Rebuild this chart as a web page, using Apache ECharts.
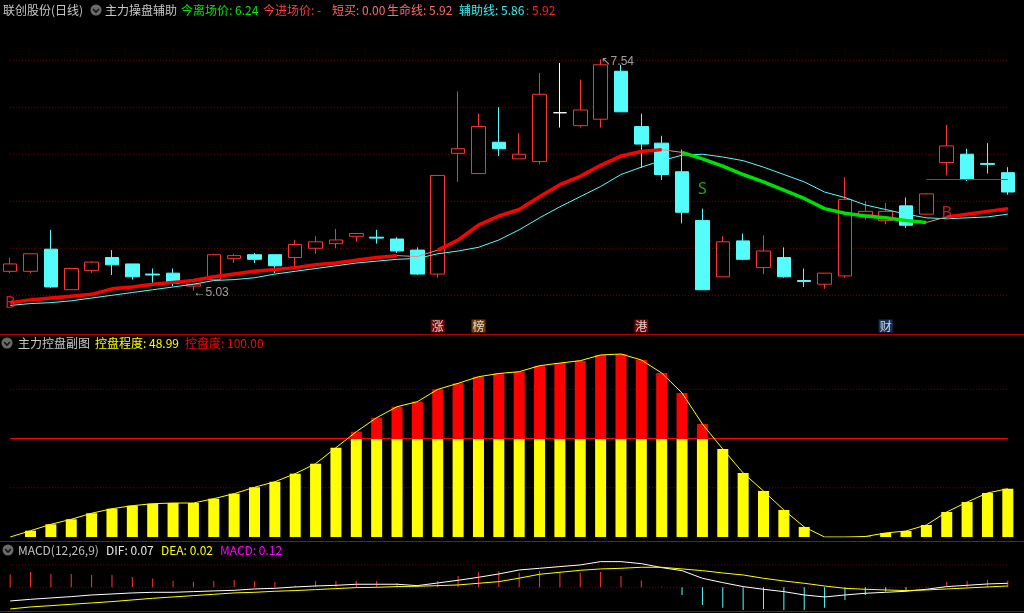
<!DOCTYPE html>
<html>
<head>
<meta charset="utf-8">
<script src="https://cdn.jsdelivr.net/npm/echarts@6/dist/echarts.min.js"></script>
<style>
html, body { margin: 0; padding: 0; background: #000; }
#main { width: 1024px; height: 613px; }
</style>
</head>
<body>
<div id="main"></div>
<script>
// 日K数据 (开, 收, 低, 高)
const opens  = [5.24,5.24,5.48,5.04,5.25,5.39,5.32,5.21,5.22,5.08, 5.15,5.38,5.42,5.42,5.39,5.49,5.54,5.62,5.61,5.59,
                5.47,5.21,6.52,6.30,6.64,6.46,6.43,6.96,6.82,6.89, 7.41,6.81,6.63,6.32,5.79,5.18,5.57,5.28,5.39,5.14,
                5.10,5.19,5.85,5.79,5.95,5.86,6.42,6.51,6.41,6.31]
const closes = [5.32,5.43,5.07,5.27,5.34,5.31,5.18,5.20,5.11,5.10, 5.42,5.41,5.37,5.30,5.53,5.56,5.58,5.65,5.60,5.46,
                5.21,6.28,6.57,6.81,6.57,6.51,7.16,6.96,6.99,7.48, 6.97,6.62,6.29,5.88,5.04,5.56,5.37,5.46,5.18,5.13,
                5.22,6.02,5.89,5.89,5.74,6.08,6.60,6.24,6.40,6.10]
const lows   = [5.22,5.22,5.06,5.04,5.22,5.20,5.15,5.11,5.08,5.03, 5.15,5.33,5.33,5.22,5.27,5.43,5.49,5.56,5.54,5.44,
                5.20,5.17,6.21,6.30,6.49,6.46,6.40,6.80,6.80,6.80, 6.97,6.36,6.23,5.76,5.04,5.18,5.36,5.21,5.17,5.07,
                5.05,5.17,5.80,5.75,5.71,5.86,6.28,6.22,6.30,6.07]
const highs  = [5.39,5.43,5.69,5.27,5.35,5.47,5.32,5.27,5.27,5.10, 5.43,5.43,5.44,5.42,5.58,5.62,5.70,5.65,5.69,5.61,
                5.50,6.28,7.19,6.95,7.02,6.74,7.39,7.50,7.32,7.54, 7.48,6.95,6.71,6.56,5.92,5.62,5.65,5.63,5.50,5.27,
                5.22,6.26,6.00,5.98,6.04,6.09,6.83,6.57,6.63,6.37]
const dayIndex = opens.map((_, i) => String(i))

// 生命线 / 辅助线
const lifeLine = [4.90,4.93,4.95,4.97,4.99,5.05,5.07,5.10,5.12,5.14, 5.18,5.21,5.24,5.26,5.28,5.31,5.33,5.36,5.39,5.41,
                  5.40,5.47,5.58,5.74,5.84,5.91,6.05,6.18,6.27,6.39, 6.49,6.54,6.56,6.53,6.46,6.38,6.29,6.21,6.12,6.03,
                  5.92,5.87,5.84,5.82,5.79,5.77,5.83,5.86,5.89,5.92]
const auxLine  = [4.87,4.89,4.90,4.92,4.95,4.98,5.01,5.04,5.07,5.10, 5.14,5.15,5.17,5.21,5.24,5.27,5.30,5.33,5.35,5.37,
                  5.38,5.43,5.46,5.50,5.58,5.69,5.82,5.94,6.05,6.16, 6.29,6.37,6.44,6.50,6.51,6.48,6.44,6.37,6.29,6.21,
                  6.10,6.04,5.96,5.91,5.86,5.82,5.81,5.82,5.83,5.86]
const priceLevels = [4.98, 5.49, 6.00, 6.51, 7.02, 7.53]
const exitPrice = 6.24
const signals = [{ i: 0, p: 4.89, t: 'B' }, { i: 34, p: 6.13, t: 'S' }, { i: 46, p: 5.87, t: 'B' }]
const events = [{ i: 21, t: '涨' }, { i: 23, t: '榜' }, { i: 31, t: '港' }, { i: 43, t: '财' }]

// 主力控盘副图
const ctrlLevel = [0,6.4,12.9,18.0,24.1,28.7,31.8,33.8,34.5,34.5, 38.9,44.0,50.5,56.1,64.3,74.4,90.7,106.9,121.1,132.3,
                   137.4,149.9,156.0,162.7,166.0,167.8,173.9,176.6,179.0,184.8, 185.8,179.7,166.5,146.2,114.7,89.3,65.0,46.7,27.4,10.2,
                   0,0,0.5,4.1,6.1,12.2,25.4,35.5,44.7,48.99]
const ctrlLevels = [50, 100, 150]
const ctrlFull = 100

// MACD(12,26,9)
const difLine = [-0.240,-0.211,-0.187,-0.164,-0.135,-0.117,-0.099,-0.088,-0.088,-0.076, -0.064,-0.053,-0.029,-0.018,0.006,0.023,0.035,0.053,0.053,0.053,
                 0.029,0.076,0.123,0.175,0.234,0.304,0.333,0.363,0.392,0.450, 0.450,0.415,0.345,0.292,0.158,0.082,0.012,-0.035,-0.076,-0.135,
                 -0.170,-0.135,-0.105,-0.088,-0.070,-0.035,0.012,0.035,0.058,0.070]
const deaLine = [-0.380,-0.345,-0.322,-0.298,-0.275,-0.251,-0.222,-0.193,-0.170,-0.146, -0.123,-0.099,-0.088,-0.070,-0.058,-0.041,-0.023,-0.006,0,0.012,
                 0.018,0.029,0.041,0.070,0.099,0.160,0.228,0.263,0.298,0.322, 0.333,0.351,0.351,0.322,0.292,0.251,0.216,0.158,0.111,0.070,
                 0.023,-0.018,-0.035,-0.047,-0.058,-0.047,-0.029,-0.012,0.006,0.023]
const macdHist = [0.228,0.269,0.234,0.234,0.216,0.222,0.181,0.152,0.111,0.094, 0.111,0.129,0.105,0.094,0.030,0.111,0.111,0.111,0.111,0.076,
                  0.035,0.111,0.199,0.263,0.287,0.257,0.292,0.269,0.257,0.269, 0.199,0.117,0.010,-0.135,-0.310,-0.357,-0.398,-0.380,-0.398,-0.398,
                  -0.357,-0.222,-0.135,-0.076,-0.058,0.010,0.094,0.111,0.129,0.120]
const macdLevels = [0, 0.39]

const RED = '#ff3232', CYAN = '#54fcfc', GRIDRED = '#8a0000'
const CJK = '"Noto Sans CJK SC"'

//生命线上升段红色，下降段绿色
const rising = lifeLine.map((v, i) => i === 0 || v >= lifeLine[i - 1])
const lifeRed = lifeLine.map((v, i) => rising[i] ? v : null)
const lifeGreen = lifeLine.map((v, i) => rising[i] ? null : v)

const candleData = opens.map((o, i) => {
  const item = { value: [o, closes[i], lows[i], highs[i]] }
  if (o === closes[i]) item.itemStyle = { color: '#fff', color0: '#fff', borderColor: '#fff', borderColor0: '#fff' }
  return item
})

const hiIdx = highs.indexOf(Math.max(...highs))
const loIdx = lows.indexOf(Math.min(...lows))

function marks (data) {
  return { silent: true, symbol: ['none', 'none'], label: { show: false }, animation: false, data }
}
// 水平点线：每条用一个常数序列画
function levelSeries (grid, levels) {
  return levels.map(v => ({
    type: 'line', xAxisIndex: grid, yAxisIndex: grid, data: dayIndex.map(() => v),
    symbol: 'none', silent: true, z: 1, lineStyle: { color: GRIDRED, type: [1, 2], width: 1 }
  }))
}

function txt (x, y, s, fill) {
  return { type: 'text', x, y, silent: true, z: 100,
    style: { text: s, fill, font: '12px ' + CJK, verticalAlign: 'middle' } }
}
function icon (cx, cy) {
  return { type: 'group', silent: true, z: 100, children: [
    { type: 'circle', shape: { cx, cy, r: 5.5 }, style: { fill: '#6b6b6b' } },
    { type: 'polyline', shape: { points: [[cx - 3, cy - 1], [cx, cy + 2], [cx + 3, cy - 1]] },
      style: { stroke: '#141414', lineWidth: 1.6, fill: null } }
  ] }
}
function sep (y) {
  return { type: 'line', silent: true, z: 90, shape: { x1: 0, y1: y, x2: 1024, y2: y },
    style: { stroke: '#b40000', lineWidth: 1 } }
}

const eventBg = { '涨': '#8c0a0a', '榜': '#8a4a0a', '港': '#8c0a0a', '财': '#1b3f73' }
const f2 = v => v.toFixed(2)
const last = a => a[a.length - 1]

const myChart = echarts.init(document.getElementById('main'))
myChart.setOption({
  backgroundColor: '#000',
  animation: false,
  grid: [
    { left: -2, right: 6, top: 20, height: 314 },
    { left: -2, right: 6, top: 340, height: 197 },
    { left: -2, right: 6, top: 541, height: 70 }
  ],
  xAxis: [0, 1, 2].map(g => ({ type: 'category', gridIndex: g, data: dayIndex, show: false })),
  yAxis: [
    { gridIndex: 0, min: 4.56, max: 7.966, show: false },
    { gridIndex: 1, min: 0, max: 200, show: false },
    { gridIndex: 2, min: -0.416, max: 0.812, show: false }
  ],
  series: [
    ...levelSeries(0, priceLevels),
    ...levelSeries(1, ctrlLevels),
    ...levelSeries(2, macdLevels),
    {
      type: 'candlestick', xAxisIndex: 0, yAxisIndex: 0, barWidth: 14, silent: true, z: 3,
      data: candleData,
      itemStyle: { color: '#000', color0: CYAN, borderColor: RED, borderColor0: CYAN, borderWidth: 1 },
      markLine: marks([
        [{ coord: [45, exitPrice], lineStyle: { color: '#e02020', type: 'solid', width: 1 } },
         { coord: [49, exitPrice] }]
      ])
    },
    { type: 'line', xAxisIndex: 0, yAxisIndex: 0, data: auxLine, symbol: 'none', silent: true, z: 4,
      lineStyle: { color: CYAN, width: 1 } },
    { type: 'line', xAxisIndex: 0, yAxisIndex: 0, data: lifeLine, symbol: 'none', silent: true, z: 4,
      lineStyle: { color: '#ff8080', width: 1 } },
    { type: 'line', xAxisIndex: 0, yAxisIndex: 0, data: lifeRed, symbol: 'none', silent: true, z: 5,
      connectNulls: false, lineStyle: { color: '#ff0000', width: 3.5 } },
    { type: 'line', xAxisIndex: 0, yAxisIndex: 0, data: lifeGreen, symbol: 'none', silent: true, z: 5,
      connectNulls: false, lineStyle: { color: '#00e000', width: 3.5 } },
    // 买卖信号
    { type: 'scatter', xAxisIndex: 0, yAxisIndex: 0, symbolSize: 0, silent: true, clip: false, z: 20,
      data: signals.map(s => ({ value: [s.i, s.p], name: s.t,
        label: { color: s.t === 'B' ? '#ff2020' : '#20d020' } })),
      label: { show: true, position: 'inside', formatter: '{b}', fontSize: 16, fontFamily: 'Noto Sans' } },
    // 最高/最低价标注
    { type: 'scatter', xAxisIndex: 0, yAxisIndex: 0, symbolSize: 0, silent: true, clip: false, z: 20,
      data: [
        { value: [hiIdx, highs[hiIdx]], name: '↖' + f2(highs[hiIdx]) },
        { value: [loIdx, lows[loIdx]], name: '←' + f2(lows[loIdx]) }
      ],
      label: { show: true, position: 'right', distance: 0, offset: [0, 2], formatter: '{b}',
        color: '#c4c4c4', fontSize: 12, fontFamily: 'Liberation Sans' } },
    // 信息地雷
    { type: 'scatter', xAxisIndex: 0, yAxisIndex: 0, symbolSize: 0, silent: true, clip: false, z: 20,
      data: events.map(e => ({ value: [e.i, 4.56], name: e.t, label: { backgroundColor: eventBg[e.t] } })),
      label: { show: true, position: 'inside', offset: [0, -8], formatter: '{b}', color: '#fff',
        fontSize: 12, fontFamily: 'Noto Sans CJK SC', padding: [1, 1, 0, 1] } },

    // 控盘副图
    { type: 'bar', xAxisIndex: 1, yAxisIndex: 1, stack: 'ctrl', barWidth: 11, silent: true, z: 2,
      data: ctrlLevel.map(v => Math.min(v, ctrlFull)), itemStyle: { color: '#ffff00' } },
    { type: 'bar', xAxisIndex: 1, yAxisIndex: 1, stack: 'ctrl', barWidth: 11, silent: true, z: 2,
      data: ctrlLevel.map(v => Math.max(v - ctrlFull, 0)), itemStyle: { color: '#ff0000' } },
    { type: 'line', xAxisIndex: 1, yAxisIndex: 1, data: ctrlLevel, symbol: 'none', silent: true, z: 5,
      lineStyle: { color: '#ffff00', width: 1 },
      markLine: marks([
        [{ coord: [0, ctrlFull], lineStyle: { color: '#ff0000', type: 'solid', width: 1 } },
         { coord: [dayIndex.length - 1, ctrlFull] }]
      ]) },

    // MACD
    { type: 'bar', xAxisIndex: 2, yAxisIndex: 2, data: macdHist, barWidth: 1, silent: true, z: 2,
      itemStyle: { color: p => p.value >= 0 ? RED : CYAN } },
    { type: 'line', xAxisIndex: 2, yAxisIndex: 2, data: difLine, symbol: 'none', silent: true, z: 3,
      lineStyle: { color: '#ffffff', width: 1 } },
    { type: 'line', xAxisIndex: 2, yAxisIndex: 2, data: deaLine, symbol: 'none', silent: true, z: 3,
      lineStyle: { color: '#ffff00', width: 1 } }
  ],
  graphic: [
    sep(334.5), sep(541.5), sep(611.5),
    txt(3, 10, '联创股份(日线)', '#c8c8c8'),
    icon(96, 10),
    txt(105, 10, '主力操盘辅助', '#c8c8c8'),
    txt(181, 10, '今离场价: ' + f2(exitPrice), '#00e600'),
    txt(263, 10, '今进场价: -', '#ff3c3c'),
    txt(332, 10, '短买: 0.00', '#ff6a6a'),
    txt(387, 10, '生命线: ' + f2(last(lifeLine)), '#ff6a6a'),
    txt(459, 10, '辅助线: ' + f2(last(auxLine)), '#3cf0f0'),
    txt(526, 10, ': 5.92', '#ff2020'),
    icon(7, 343),
    txt(18, 343, '主力控盘副图', '#c8c8c8'),
    txt(95, 343, '控盘程度: ' + f2(last(ctrlLevel)), '#ffff00'),
    txt(185, 343, '控盘度: ' + f2(ctrlFull), '#ff0000'),
    icon(8, 550),
    txt(18, 550, 'MACD(12,26,9)', '#c0c0c0'),
    txt(106, 550, 'DIF: ' + f2(last(difLine)), '#e8e8e8'),
    txt(161, 550, 'DEA: ' + f2(last(deaLine)), '#ffff00'),
    txt(220, 550, 'MACD: ' + f2(last(macdHist)), '#ff00ff')
  ]
})
</script>
</body>
</html>
